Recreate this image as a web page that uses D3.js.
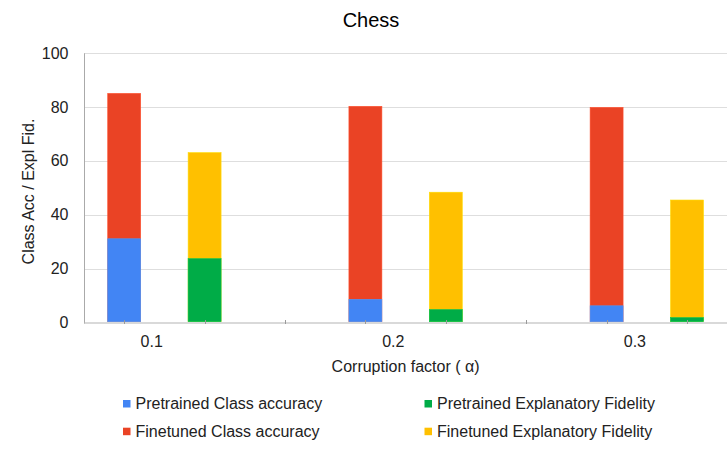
<!DOCTYPE html>
<html>
<head>
<meta charset="utf-8">
<script src="https://cdn.jsdelivr.net/npm/d3@7"></script>
<style>
  html, body { margin: 0; padding: 0; background: #fff; }
  svg { display: block; font-family: Arial, "Liberation Sans", sans-serif; }
</style>
</head>
<body>
<svg id="chart" width="727" height="450"></svg>
<script>
// ---- data ----
const categories = ["0.1", "0.2", "0.3"];
const pretrainedClass = [31.1, 8.6, 6.2];
const finetunedClass = [85.1, 80.3, 79.9];
const pretrainedFid = [23.7, 4.8, 1.8];
const finetunedFid = [63.1, 48.4, 45.5];
const yTicks = [0, 20, 40, 60, 80, 100];
const seriesNames = ["Pretrained Class accuracy", "Pretrained Explanatory Fidelity",
                     "Finetuned Class accuracy", "Finetuned Explanatory Fidelity"];
const seriesColors = ["#4285F4", "#00AC47", "#EA4325", "#FFC000"];

// ---- layout ----
const svg = d3.select("#chart");
const plotLeft = 84, plotRight = 727.2, plotTop = 53.3, plotBottom = 322.5;

// slots: class bar, fidelity bar, gap between groups
const slots = [];
categories.forEach((c, i) => {
  slots.push(c + "|class");
  slots.push(c + "|fid");
  if (i < categories.length - 1) slots.push(c + "|gap");
});

const x = d3.scaleBand().domain(slots).range([plotLeft, plotRight]).padding(0);
const barW = x.bandwidth() * 0.41;
const y = d3.scaleLinear().domain([0, 100]).range([plotBottom, plotTop]);
const xLabel = d3.scalePoint().domain(categories).range([151.7, 634.9]);

// gridlines
svg.append("g").selectAll("line").data(yTicks.filter(t => t > 0)).join("line")
  .attr("x1", plotLeft).attr("x2", plotRight)
  .attr("y1", d => Math.round(y(d)) + 0.5).attr("y2", d => Math.round(y(d)) + 0.5)
  .attr("stroke", "#dedede").attr("stroke-width", 1);

// y tick labels
svg.append("g").selectAll("text").data(yTicks).join("text")
  .attr("x", 68.5).attr("y", d => y(d) + 5.5)
  .attr("text-anchor", "end").attr("font-size", 16).attr("fill", "#222")
  .text(d => d);

// bars
function drawBars(values, kind, color) {
  svg.append("g").selectAll("rect").data(values).join("rect")
    .attr("x", (d, i) => x(categories[i] + "|" + kind) + (x.bandwidth() - barW) / 2)
    .attr("width", barW)
    .attr("y", d => y(d))
    .attr("height", d => y(0) - y(d) - 0.8)
    .attr("fill", color)
    .attr("stroke", d3.color(color).brighter(0.4))
    .attr("stroke-width", 0.6);
}
drawBars(finetunedClass, "class", seriesColors[2]);
drawBars(pretrainedClass, "class", seriesColors[0]);
drawBars(finetunedFid, "fid", seriesColors[3]);
drawBars(pretrainedFid, "fid", seriesColors[1]);

// axes lines
svg.append("line").attr("x1", plotLeft + 0.5).attr("x2", plotLeft + 0.5)
  .attr("y1", plotTop).attr("y2", plotBottom + 1)
  .attr("stroke", "#aaa").attr("stroke-width", 1);
svg.append("line").attr("x1", plotLeft).attr("x2", plotRight)
  .attr("y1", plotBottom + 0.5).attr("y2", plotBottom + 0.5)
  .attr("stroke", "#b3b3b3").attr("stroke-width", 1.2);

// x ticks at every slot
svg.append("g").selectAll("line").data(slots).join("line")
  .attr("x1", d => Math.round(x(d) + x.bandwidth() / 2) + 0.5)
  .attr("x2", d => Math.round(x(d) + x.bandwidth() / 2) + 0.5)
  .attr("y1", plotBottom - 2.5).attr("y2", plotBottom + 1.5)
  .attr("stroke", "#999").attr("stroke-width", 1);

// x category labels
svg.append("g").selectAll("text").data(categories).join("text")
  .attr("x", d => xLabel(d)).attr("y", 347)
  .attr("text-anchor", "middle").attr("font-size", 16).attr("fill", "#222")
  .text(d => d);

// axis titles
svg.append("text").attr("x", (plotLeft + plotRight) / 2).attr("y", 371.5)
  .attr("text-anchor", "middle").attr("font-size", 16).attr("fill", "#222")
  .text("Corruption factor ( α)");
svg.append("text")
  .attr("transform", `translate(33.5,191.5) rotate(-90)`)
  .attr("text-anchor", "middle").attr("font-size", 16).attr("fill", "#222")
  .text("Class Acc / Expl Fid.");

// title
svg.append("text").attr("x", 371).attr("y", 26.7)
  .attr("text-anchor", "middle").attr("font-size", 20).attr("fill", "#000")
  .text("Chess");

// legend (2 columns, row-major)
const legendPos = [[123, 409], [424.5, 409], [123, 436.7], [424.5, 436.7]];
const lg = svg.append("g").selectAll("g").data(seriesNames).join("g")
  .attr("transform", (d, i) => `translate(${legendPos[i][0]},${legendPos[i][1]})`);
lg.append("rect").attr("x", 0).attr("y", -9).attr("width", 7.5).attr("height", 7.5)
  .attr("fill", (d, i) => seriesColors[i]);
lg.append("text").attr("x", 12.5).attr("y", 0)
  .attr("font-size", 16).attr("fill", "#222").text(d => d);
</script>
</body>
</html>
